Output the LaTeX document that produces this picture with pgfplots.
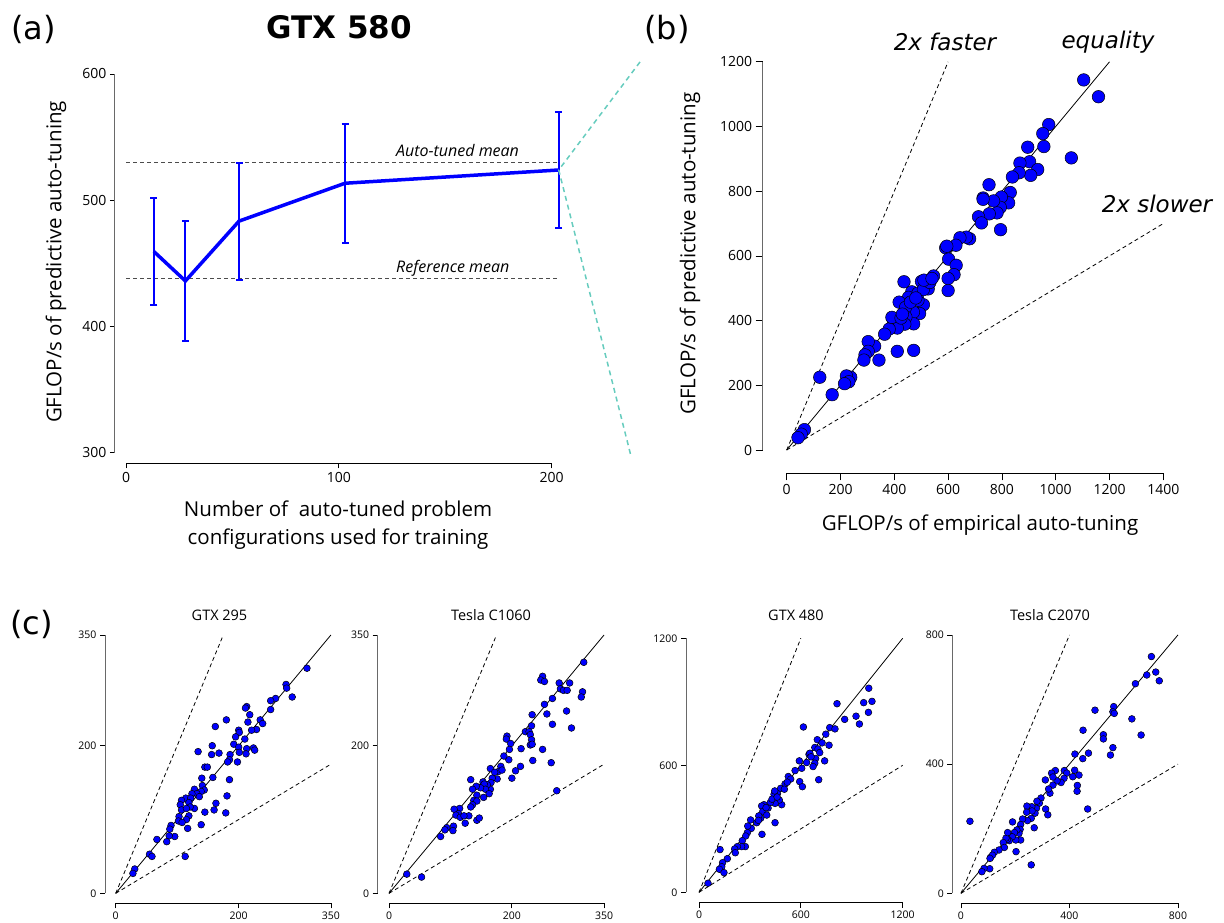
\documentclass[border=0pt]{standalone}
\usepackage{pgfplots}
\pgfplotsset{compat=1.18}
\usepackage{fontspec}
\setmainfont{Open Sans}
\newfontfamily\dejavu{DejaVu Sans}
\definecolor{pblue}{RGB}{0,0,255}
\definecolor{cyanl}{RGB}{102,204,190}
\definecolor{axgray}{RGB}{105,105,105}
\newcommand{\fs}[1]{\fontsize{#1}{#1}\selectfont}
\pgfplotsset{
  base/.style={scale only axis, anchor=south west, clip=false,
    axis line style={draw=none}, tick pos=left, tick align=outside,
    tick style={draw=black, line width=0.8pt},
    /pgf/number format/assume math mode=true,
    /pgf/number format/1000 sep={},
    scaled ticks=false},
  scat/.style={only marks, mark=*, mark size=#1,
    mark options={fill=pblue, draw=black, line width=0.5pt}},
  guide/.style={black, line width=0.8pt, dash pattern=on 4pt off 3pt},
  eq/.style={black, line width=0.8pt},
}
\begin{document}
\begin{tikzpicture}
\useasboundingbox (0,0) rectangle (1224pt,922pt);

% ---------------- (a)
\begin{axis}[base, at={(114.3pt,458pt)}, width=458.7pt, height=402.7pt,
  xmin=-5.5, xmax=210, ymin=291, ymax=610,
  xtick={0,100,200}, ytick={300,400,500,600},
  major tick length=4.5pt, ticklabel style={font=\fs{14}}]
 \draw[axgray, line width=1pt] (-5.5,300) -- (-5.5,600);
 \draw[black, line width=1pt] (0,291) -- (200,291);
 \addplot[gray!60!black, line width=1pt, dash pattern=on 4pt off 3pt] coordinates {(0,529.5) (203.3,529.5)};
 \addplot[gray!60!black, line width=1pt, dash pattern=on 4pt off 3pt] coordinates {(0,437.6) (203.3,437.6)};
 \addplot[pblue, line width=3.5pt, mark=none,
   error bars/.cd, y dir=both, y explicit,
   error bar style={line width=2pt, pblue},
   error mark options={rotate=90, mark size=3.5pt, line width=2pt, pblue}]
   coordinates {(13.1,459.3) +- (0,42.6) (27.9,436) +- (0,47.5) (53.1,483.4) +- (0,46.4)
                (102.9,513.4) +- (0,47) (203.3,523.9) +- (0,46.3)};
 \draw[cyanl, line width=1.5pt, dash pattern=on 5pt off 4pt] (241.5,609.5) -- (203.3,523.9) -- (237.1,298.2);
\end{axis}

% ---------------- (b)
\begin{axis}[base, at={(762.7pt,448.5pt)}, width=406pt, height=421.4pt,
  xmin=-89.2, xmax=1420, ymin=-72.6, ymax=1230,
  xtick={0,200,...,1400}, ytick={0,200,...,1200},
  major tick length=7pt, ticklabel style={font=\fs{14}}]
 \draw[axgray, line width=1pt] (-89.2,0) -- (-89.2,1200);
 \draw[black, line width=1pt] (0,-72.6) -- (1400,-72.6);
 \addplot[guide] coordinates {(0,0) (600,1200)};
 \addplot[eq] coordinates {(0,0) (1200,1200)};
 \addplot[guide] coordinates {(0,0) (1400,700)};
 \addplot[scat=6.3pt] coordinates {
 (1104,1144) (1159,1092) (1058,903) (974,1006) (952,978) (956,938) (896,936) (903,891)
 (933,867) (907,849) (867,887) (864,857) (839,844) (831,796) (825,764) (798,782) (794,750)
 (782,733) (795,681) (752,820) (730,779) (769,770) (753,730) (713,721) (724,702) (680,653)
 (668,658) (644,656) (629,633) (591,625) (595,630) (602,590) (630,571) (622,542) (600,530)
 (600,493) (546,538) (526,498) (519,521) (501,521) (508,449) (494,422) (488,463) (476,478)
 (465,489) (453,472) (471,426) (472,390) (472,308) (436,520) (418,457) (442,441) (443,411)
 (439,389) (409,404) (398,394) (411,377) (381,374) (364,358) (411,305) (343,278) (327,321)
 (303,335) (303,305) (291,294) (287,278) (238,225) (222,229) (231,211) (215,205) (169,171)
 (123,225) (66,63) (54,49) (42,38) (391,410) (425,408) (460,457) (488,485) (508,496)
 (532,518) (730,775) (430,420) (480,470) (510,525) (540,530)};
\end{axis}

% ---------------- (c1) GTX 295
\begin{axis}[base, at={(105pt,18.7pt)}, width=229pt, height=272pt,
  xmin=-17.4, xmax=355, ymin=-13.5, ymax=355,
  xtick={0,200,350}, ytick={0,200,350},
  major tick length=5pt, ticklabel style={font=\fs{10.5}}]
 \draw[axgray, line width=0.8pt] (-17.4,0) -- (-17.4,350);
 \draw[black, line width=0.8pt] (0,-13.5) -- (350,-13.5);
 \addplot[guide] coordinates {(0,0) (175,350)};
 \addplot[eq] coordinates {(0,0) (350,350)};
 \addplot[guide] coordinates {(0,0) (350,175)};
 \addplot[scat=3.4pt] coordinates {
 (311,305) (277,283) (278,278) (287,266) (260,264) (252,261) (252,249) (213,253) (211,251)
 (218,242) (215,232) (235,235) (239,230) (229,222) (221,221) (200,221) (201,218) (195,212)
 (210,209) (192,202) (200,198) (213,196) (224,197) (226,194) (212,189) (201,191) (186,188)
 (185,181) (198,178) (182,178) (180,235) (162,226) (168,190) (157,200) (156,188) (134,192)
 (145,171) (149,171) (158,157) (185,154) (140,156) (141,146) (144,140) (139,138) (128,141)
 (132,135) (136,131) (124,135) (114,129) (122,129) (119,123) (128,115) (121,117) (107,126)
 (105,120) (107,113) (115,115) (119,105) (115,100) (103,104) (102,98) (108,96) (90,92)
 (88,87) (96,77) (87,78) (83,70) (67,73) (117,88) (139,93) (145,110) (160,113) (163,122)
 (179,109) (181,132) (113,50) (55,53) (59,50) (31,33) (28,27)};
\end{axis}

% ---------------- (c2) Tesla C1060
\begin{axis}[base, at={(377.7pt,18.7pt)}, width=229.4pt, height=272pt,
  xmin=-18.4, xmax=355, ymin=-13.5, ymax=355,
  xtick={0,200,350}, ytick={0,200,350},
  major tick length=5pt, ticklabel style={font=\fs{10.5}}]
 \draw[axgray, line width=0.8pt] (-18.4,0) -- (-18.4,350);
 \draw[black, line width=0.8pt] (0,-13.5) -- (350,-13.5);
 \addplot[guide] coordinates {(0,0) (175,350)};
 \addplot[eq] coordinates {(0,0) (350,350)};
 \addplot[guide] coordinates {(0,0) (350,175)};
 \addplot[scat=3.4pt] coordinates {
 (317,313) (250,294) (247,289) (253,287) (277,285) (294,285) (279,277) (284,275) (290,275)
 (315,273) (313,266) (266,264) (253,256) (289,247) (257,243) (233,242) (266,229) (297,224)
 (232,227) (222,219) (228,219) (230,215) (232,208) (230,201) (233,202) (250,195) (215,196)
 (234,180) (264,177) (214,172) (206,166) (200,156) (192,213) (191,209) (198,203) (196,195)
 (195,181) (187,186) (182,172) (178,165) (184,167) (176,155) (165,169) (172,164) (168,156)
 (165,141) (166,150) (160,147) (153,151) (155,148) (157,141) (154,130) (163,135) (149,143)
 (142,145) (133,154) (136,141) (143,133) (138,126) (143,125) (136,120) (133,117) (143,99)
 (147,102) (273,139) (130,105) (124,95) (115,115) (113,108) (106,114) (109,106) (116,103)
 (122,105) (105,91) (94,89) (91,86) (104,85) (84,77) (29,26) (53,22)};
\end{axis}

% ---------------- (c3) GTX 480
\begin{axis}[base, at={(686pt,19.3pt)}, width=219.25pt, height=267.6pt,
  xmin=-76.6, xmax=1215, ymin=-49, ymax=1215,
  xtick={0,600,1200}, ytick={0,600,1200},
  major tick length=5pt, ticklabel style={font=\fs{10.5}}]
 \draw[axgray, line width=0.8pt] (-76.6,0) -- (-76.6,1200);
 \draw[black, line width=0.8pt] (0,-49) -- (1200,-49);
 \addplot[guide] coordinates {(0,0) (600,1200)};
 \addplot[eq] coordinates {(0,0) (1200,1200)};
 \addplot[guide] coordinates {(0,0) (1200,600)};
 \addplot[scat=3.4pt] coordinates {
 (1000,964) (970,896) (1019,902) (998,850) (925,832) (945,795) (813,891) (858,817) (615,781)
 (770,778) (801,772) (747,747) (697,721) (725,706) (766,695) (682,684) (701,677) (711,660)
 (648,652) (653,657) (687,632) (682,610) (672,594) (634,613) (591,621) (605,586) (566,575)
 (526,547) (540,535) (507,512) (593,523) (609,499) (740,621) (705,532) (481,491) (503,487)
 (462,466) (442,463) (446,479) (487,414) (473,436) (448,420) (420,424) (407,398) (383,414)
 (369,408) (375,381) (399,365) (363,350) (352,361) (340,329) (304,342) (448,329) (371,274)
 (308,302) (287,313) (285,282) (275,266) (255,244) (273,216) (251,216) (226,216) (210,205)
 (214,187) (167,159) (124,202) (139,140) (134,121) (120,109) (147,93) (53,43)
 (430,440) (460,450) (395,400) (350,340) (520,520) (660,640)};
\end{axis}

% ---------------- (c4) Tesla C2070
\begin{axis}[base, at={(952.3pt,18.7pt)}, width=228.4pt, height=271.6pt,
  xmin=-32, xmax=810, ymin=-31, ymax=810,
  xtick={0,400,800}, ytick={0,400,800},
  major tick length=5pt, ticklabel style={font=\fs{10.5}}]
 \draw[axgray, line width=0.8pt] (-32,0) -- (-32,800);
 \draw[black, line width=0.8pt] (0,-31) -- (800,-31);
 \addplot[guide] coordinates {(0,0) (400,800)};
 \addplot[eq] coordinates {(0,0) (800,800)};
 \addplot[guide] coordinates {(0,0) (800,400)};
 \addplot[scat=3.4pt] coordinates {
 (702,733) (685,676) (718,685) (731,658) (643,649) (563,578) (560,562) (565,557) (494,567)
 (630,540) (664,490) (525,491) (525,478) (560,451) (551,428) (450,505) (449,417) (470,434)
 (420,431) (467,261) (419,381) (435,366) (412,361) (429,334) (428,316) (381,380) (390,372)
 (380,356) (369,343) (354,348) (348,380) (334,372) (339,360) (339,335) (328,310) (323,323)
 (311,351) (312,261) (320,243) (295,295) (289,279) (280,285) (278,263) (273,248) (261,268)
 (262,255) (243,270) (242,251) (259,232) (270,203) (245,225) (227,230) (220,213) (218,198)
 (214,186) (220,165) (202,165) (190,221) (206,196) (197,188) (189,175) (178,163) (171,167)
 (166,171) (172,188) (156,157) (160,142) (140,134) (123,127) (109,111) (116,118) (107,108)
 (106,76) (85,77) (77,67) (203,129) (259,88) (33,223)};
\end{axis}

% ---------------- texts
\node[font=\dejavu\fs{32}, inner sep=0] at (33.5pt,892.5pt) {(a)};
\node[font=\dejavu\fs{32}, inner sep=0] at (667pt,892.5pt) {(b)};
\node[font=\dejavu\fs{32}, inner sep=0] at (31.5pt,297.5pt) {(c)};
\node[font=\dejavu\bfseries\fs{31}, inner sep=0] at (339pt,895pt) {GTX 580};

\node[rotate=90, font=\fs{20.5}, inner sep=0] at (56pt,660pt) {GFLOP/s of predictive auto-tuning};
\node[font=\fs{20.5}, inner sep=0] at (338pt,411pt) {Number of~ auto-tuned problem};
\node[font=\fs{20.5}, inner sep=0] at (338pt,383pt) {configurations used for training};
\node[font=\itshape\fs{16}, inner sep=0, anchor=west] at (396pt,771.3pt) {Auto-tuned mean};
\node[font=\itshape\fs{16}, inner sep=0, anchor=west] at (396pt,654pt) {Reference mean};

\node[rotate=90, font=\fs{20.5}, inner sep=0] at (690pt,668.4pt) {GFLOP/s of predictive auto-tuning};
\node[font=\fs{20.5}, inner sep=0] at (980pt,397pt) {GFLOP/s of empirical auto-tuning};
\node[font=\dejavu\itshape\fs{23}, inner sep=0] at (945pt,880pt) {2x faster};
\node[font=\dejavu\itshape\fs{23}, inner sep=0] at (1108pt,880pt) {equality};
\node[font=\dejavu\itshape\fs{23}, inner sep=0] at (1157pt,718pt) {2x slower};

\node[font=\fs{14.5}, inner sep=0] at (219.5pt,307pt) {GTX 295};
\node[font=\fs{14.5}, inner sep=0] at (491pt,307pt) {Tesla C1060};
\node[font=\fs{14.5}, inner sep=0] at (796pt,307pt) {GTX 480};
\node[font=\fs{14.5}, inner sep=0] at (1050pt,307pt) {Tesla C2070};
\end{tikzpicture}
\end{document}
